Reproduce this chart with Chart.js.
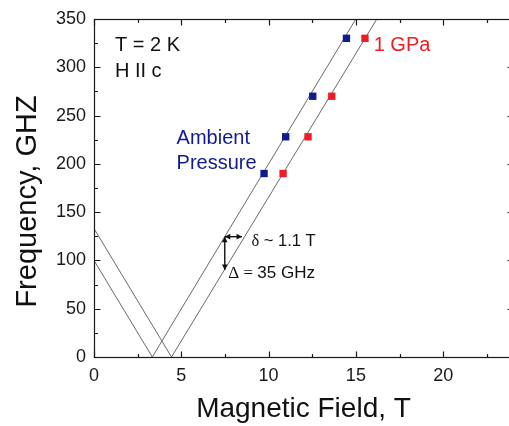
<!DOCTYPE html>
<html><head><meta charset="utf-8">
<script src="https://cdn.jsdelivr.net/npm/chart.js@4.4.1/dist/chart.umd.min.js"></script>
<style>html,body{margin:0;padding:0;overflow:hidden;background:#fff;width:509px;height:426px}canvas{display:block}</style>
</head><body>
<canvas id="c" width="520" height="426"></canvas>
<script>
// ---- data ----
const fieldAmbientFit = [0, 3.34, 15.0];
const freqAmbientFit  = [100, 0, 350];
const field1GPaFit    = [0, 4.44, 16.2];
const freq1GPaFit     = [133, 0, 350];
const fieldAmbient = [9.74, 10.98, 12.53, 14.46];
const freqAmbient  = [190, 228, 270, 330];
const field1GPa    = [10.83, 12.26, 13.62, 15.52];
const freq1GPa     = [190, 228, 270, 330];
const xTickValues = [0, 5, 10, 15, 20];
const yTickValues = [0, 50, 100, 150, 200, 250, 300, 350];
const xTitle = 'Magnetic Field, T';
const yTitle = 'Frequency, GHZ';
const labelConditions = ['T = 2 K', 'H II c'];
const labelAmbient = ['Ambient', 'Pressure'];
const label1GPa = '1 GPa';
const labelDelta = ['\u03B4', ' ~ 1.1 T'];
const labelGap = ['\u0394 = ', '35 GHz'];

const pts = (xs, ys) => xs.map((x, i) => ({x, y: ys[i]}));

const SANS = '"Liberation Sans", Arial, sans-serif';
const SERIF = '"Liberation Serif", "Times New Roman", serif';
const BLUE = '#101a93';
const RED = '#ee1d25';

// annotation placement (data coordinates for anchors)
const notes = [
  {x: 1.2, y: 316.6, size: 20, color: '#111', parts: [[labelConditions[0], SANS]]},
  {x: 1.2, y: 289.6, size: 20, color: '#111', parts: [[labelConditions[1], SANS]]},
  {x: 4.73, y: 220.5, size: 20, color: BLUE, parts: [[labelAmbient[0], SANS]]},
  {x: 4.73, y: 194.5, size: 20, color: BLUE, parts: [[labelAmbient[1], SANS]]},
  {x: 16.02, y: 316.6, size: 20, color: RED, parts: [[label1GPa, SANS]]},
  {x: 9.02, y: 114.9, size: 16.5, color: '#111', parts: [[labelDelta[0], SERIF], [labelDelta[1], SANS]]},
  {x: 7.69, y: 81.7, size: 17, color: '#111', parts: [[labelGap[0], SERIF], [labelGap[1], SANS]]}
];
const arrows = [
  {from: [7.49, 124.6], to: [8.48, 124.6]},
  {from: [7.49, 124.6], to: [7.49, 90]}
];

function head(ctx, x, y, ang) {
  const L = 5.5, W = 2.8;
  ctx.beginPath();
  ctx.moveTo(x, y);
  ctx.lineTo(x - L * Math.cos(ang) + W * Math.sin(ang), y - L * Math.sin(ang) - W * Math.cos(ang));
  ctx.lineTo(x - L * Math.cos(ang) - W * Math.sin(ang), y - L * Math.sin(ang) + W * Math.cos(ang));
  ctx.closePath();
  ctx.fill();
}

const framePlugin = {
  id: 'frame',
  afterDraw(chart) {
    const {ctx, chartArea: a, scales: {x, y}} = chart;
    ctx.save();
    ctx.strokeStyle = '#1a1a1a';
    ctx.lineWidth = 1.2;
    const L = Math.round(a.left) + 0.5, R = Math.round(a.right) + 0.5;
    const T = Math.round(a.top) + 0.5, B = Math.round(a.bottom) + 0.5;
    ctx.strokeRect(L, T, R - L, B - T);
    ctx.beginPath();
    for (let v = 0; v <= x.max + 1e-6; v += 2.5) {
      const px = Math.round(x.getPixelForValue(v)) + 0.5;
      const len = (Math.abs(v % 5) < 1e-6) ? 6 : 3.5;
      ctx.moveTo(px, B); ctx.lineTo(px, B - len);
      ctx.moveTo(px, T); ctx.lineTo(px, T + len);
    }
    for (let v = 0; v <= y.max + 1e-6; v += 25) {
      const py = Math.round(y.getPixelForValue(v)) + 0.5;
      const len = (Math.abs(v % 50) < 1e-6) ? 6 : 3.5;
      ctx.moveTo(L, py); ctx.lineTo(L + len, py);
      ctx.moveTo(R, py); ctx.lineTo(R - len, py);
    }
    ctx.stroke();

    // annotations
    ctx.textBaseline = 'alphabetic';
    ctx.textAlign = 'left';
    for (const n of notes) {
      let px = x.getPixelForValue(n.x);
      const py = y.getPixelForValue(n.y);
      ctx.fillStyle = n.color;
      for (const [t, f] of n.parts) {
        ctx.font = n.size + 'px ' + f;
        ctx.fillText(t, px, py);
        px += ctx.measureText(t).width;
      }
    }
    // arrows
    ctx.strokeStyle = '#111';
    ctx.fillStyle = '#111';
    ctx.lineWidth = 1.4;
    for (const ar of arrows) {
      const x1 = x.getPixelForValue(ar.from[0]), y1 = y.getPixelForValue(ar.from[1]);
      const x2 = x.getPixelForValue(ar.to[0]), y2 = y.getPixelForValue(ar.to[1]);
      ctx.beginPath(); ctx.moveTo(x1, y1); ctx.lineTo(x2, y2); ctx.stroke();
      const ang = Math.atan2(y2 - y1, x2 - x1);
      head(ctx, x2, y2, ang);
      head(ctx, x1, y1, ang + Math.PI);
    }
    // axis titles
    ctx.fillStyle = '#111';
    ctx.font = '28px ' + SANS;
    ctx.textAlign = 'center';
    ctx.fillText(x.options.title.text, (a.left + a.right) / 2, 416.7);
    ctx.save();
    ctx.translate(35.5, 201.5);
    ctx.rotate(-Math.PI / 2);
    ctx.font = '29px ' + SANS;
    ctx.fillText(y.options.title.text, 0, 0);
    ctx.restore();
    ctx.restore();
  }
};

new Chart(document.getElementById('c'), {
  type: 'scatter',
  data: {
    datasets: [
      {data: pts(fieldAmbientFit, freqAmbientFit), showLine: true, borderColor: '#6a6a6a', borderWidth: 1, pointRadius: 0, order: 3},
      {data: pts(field1GPaFit, freq1GPaFit), showLine: true, borderColor: '#6a6a6a', borderWidth: 1, pointRadius: 0, order: 3},
      {label: 'Ambient Pressure', data: pts(fieldAmbient, freqAmbient), pointStyle: 'rect', pointRadius: 5.2, backgroundColor: BLUE, borderColor: BLUE, borderWidth: 0, order: 1},
      {label: '1 GPa', data: pts(field1GPa, freq1GPa), pointStyle: 'rect', pointRadius: 5.2, backgroundColor: RED, borderColor: RED, borderWidth: 0, order: 1}
    ]
  },
  options: {
    responsive: false,
    animation: false,
    devicePixelRatio: 1,
    layout: {padding: {top: 19, right: 7, left: 0, bottom: 0}},
    plugins: {legend: {display: false}, tooltip: {enabled: false}},
    scales: {
      x: {
        type: 'linear', min: 0, max: 24,
        afterBuildTicks: s => { s.ticks = xTickValues.map(v => ({value: v})); },
        afterFit: s => { s.height = 69; },
        grid: {display: false, drawTicks: false}, border: {display: false},
        ticks: {color: '#1a1a1a', font: {size: 18, family: SANS}, padding: 8, maxRotation: 0, autoSkip: false},
        title: {display: false, text: xTitle}
      },
      y: {
        type: 'linear', min: 0, max: 350,
        afterBuildTicks: s => { s.ticks = yTickValues.map(v => ({value: v})); },
        afterFit: s => { s.width = 94; },
        grid: {display: false, drawTicks: false}, border: {display: false},
        ticks: {color: '#1a1a1a', font: {size: 18, family: SANS}, padding: 8, autoSkip: false},
        title: {display: false, text: yTitle}
      }
    }
  },
  plugins: [framePlugin]
});
</script>
</body></html>
